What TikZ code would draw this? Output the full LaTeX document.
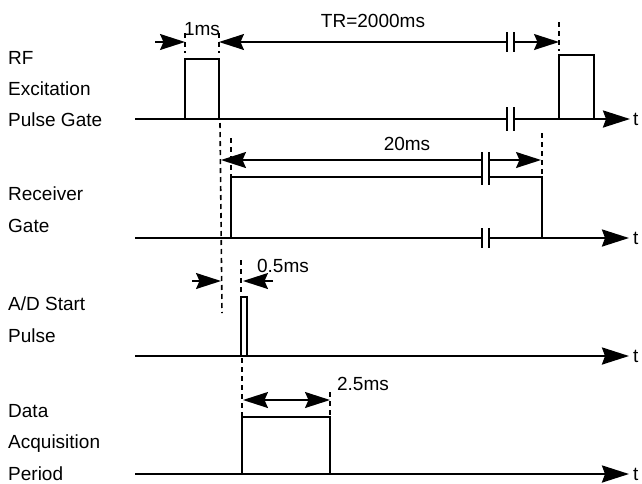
\documentclass[tikz,border=0pt]{standalone}
\usepackage{fontspec}
\setmainfont{Liberation Sans}
\usetikzlibrary{arrows.meta}
\begin{document}
\begin{tikzpicture}[x=1pt,y=-1pt,
  lbl/.style={anchor=base west,inner sep=0pt,font=\fontsize{19}{22}\selectfont},
  dimtxt/.style={anchor=base,inner sep=0pt,font=\fontsize{19}{22}\selectfont},
  axisline/.style={line width=2.5pt},
  axisarrow/.style={line width=2.5pt,-{Stealth[length=27pt,width=17pt,inset=3pt]}},
  pulseline/.style={line width=2.2pt,line join=miter},
  dimhead/.style={line width=1.5pt,-{Stealth[length=25pt,width=16pt,inset=3.5pt]}},
  dimboth/.style={line width=1.5pt,{Stealth[length=25pt,width=16pt,inset=3.5pt]}-{Stealth[length=25pt,width=16pt,inset=3.5pt]}},
  dimtail/.style={line width=1.5pt,{Stealth[length=25pt,width=16pt,inset=3.5pt]}-},
  breakbar/.style={line width=1.5pt},
  guide/.style={line width=1.6pt,dash pattern=on 5pt off 4pt}
]
\useasboundingbox (0,0) rectangle (642,483);

% ---------- labels ----------
\node[lbl] (l1a) at (8,64) {RF};
\node[lbl] (l1b) at (8,95) {Excitation};
\node[lbl] (l1c) at (8,126) {Pulse Gate};
\node[lbl] (l2a) at (8,200) {Receiver};
\node[lbl] (l2b) at (8,232) {Gate};
\node[lbl] (l3a) at (8,310) {A/D Start};
\node[lbl] (l3b) at (8,342) {Pulse};
\node[lbl] (l4a) at (8,417) {Data};
\node[lbl] (l4b) at (8,448) {Acquisition};
\node[lbl] (l4c) at (8,480) {Period};

% ---------- t labels ----------
\node[lbl] (t1) at (633,125) {t};
\node[lbl] (t2) at (633,244) {t};
\node[lbl] (t3) at (633,362) {t};
\node[lbl] (t4) at (633,480) {t};

% ---------- row 1: RF excitation ----------
\coordinate (a1s) at (135,119);
\coordinate (a1b1) at (507,119);
\coordinate (a1b2) at (514,119);
\coordinate (a1e) at (630,119);
\draw[axisline] (a1s) -- (a1b1);
\draw[axisarrow] (a1b2) -- (a1e);
\draw[breakbar] (507,107) -- (507,131) (514,107) -- (514,131);
\draw[pulseline] (185,119) -- (185,59) -- (219,59) -- (219,119);
\draw[pulseline] (559,119) -- (559,55) -- (594,55) -- (594,119);

% 1ms
\coordinate (p1l) at (185,42);
\coordinate (p1r) at (219,42);
\coordinate (p1t) at (155,42);
\draw[dimhead] (p1t) -- (p1l);
\draw[guide] (185,33) -- (185,53);
\draw[guide] (219,33) -- (219,53);
\node[dimtxt] (ms1) at (202,35) {1ms};

% TR
\coordinate (trb1) at (507,42);
\coordinate (trb2) at (514,42);
\coordinate (trr) at (559,42);
\draw[dimtail] (p1r) -- (trb1);
\draw[dimhead] (trb2) -- (trr);
\draw[breakbar] (507,32) -- (507,52) (514,32) -- (514,52);
\draw[guide] (559,22) -- (559,51);
\node[dimtxt] (tr) at (373,27) {TR=2000ms};

% long guide from end of RF pulse
\draw[guide] (220,123) -- (222,313);

% ---------- row 2: receiver gate ----------
\coordinate (a2s) at (135,238);
\coordinate (a2b1) at (482,238);
\coordinate (a2b2) at (489,238);
\coordinate (a2e) at (629,238);
\draw[axisline] (a2s) -- (a2b1);
\draw[axisarrow] (a2b2) -- (a2e);
\draw[breakbar] (482,228) -- (482,248) (489,228) -- (489,248);
\draw[pulseline] (231,238) -- (231,177) -- (482,177);
\draw[pulseline] (489,177) -- (542,177) -- (542,238);
\draw[breakbar] (482,152) -- (482,185) (489,152) -- (489,185);

% 20ms
\coordinate (r20l) at (221,160);
\coordinate (r20b1) at (482,160);
\coordinate (r20b2) at (489,160);
\coordinate (r20r) at (541,160);
\draw[dimtail] (r20l) -- (r20b1);
\draw[dimhead] (r20b2) -- (r20r);
\draw[guide] (231,138) -- (231,177);
\draw[guide] (542,133) -- (542,177);
\node[dimtxt] (ms20) at (407,150) {20ms};

% ---------- row 3: A/D start pulse ----------
\coordinate (a3s) at (135,356);
\coordinate (a3e) at (629,356);
\draw[axisarrow] (a3s) -- (a3e);
\draw[pulseline,line width=1.7pt] (241,356) -- (241,297) -- (247,297) -- (247,356);
\draw[guide] (241,260) -- (241,297);
\coordinate (adl) at (221,281);
\coordinate (adlt) at (192,281);
\coordinate (adr) at (243,281);
\coordinate (adrt) at (273,281);
\draw[dimhead] (adlt) -- (adl);
\draw[dimhead] (adrt) -- (adr);
\node[dimtxt] (ms05) at (283,272) {0.5ms};

% ---------- row 4: data acquisition ----------
\coordinate (a4s) at (135,474);
\coordinate (a4e) at (629,474);
\draw[axisarrow] (a4s) -- (a4e);
\draw[pulseline] (242,474) -- (242,417) -- (330,417) -- (330,474);
\draw[guide] (242,358) -- (242,417);
\draw[guide] (330,392) -- (330,417);
\coordinate (dal) at (243,400);
\coordinate (dar) at (330,400);
\draw[dimboth] (dal) -- (dar);
\node[dimtxt] (ms25) at (363,390) {2.5ms};
\end{tikzpicture}
\end{document}
